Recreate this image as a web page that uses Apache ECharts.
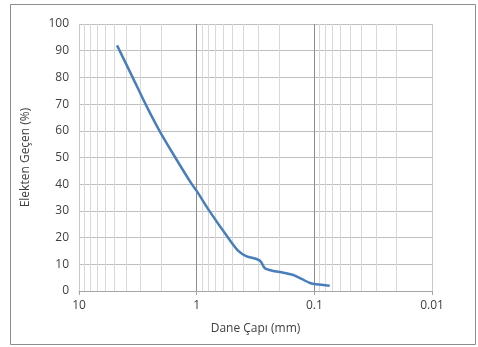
<!DOCTYPE html>
<html>
<head>
<meta charset="utf-8">
<script src="https://cdn.jsdelivr.net/npm/echarts@6/dist/echarts.min.js"></script>
<style>html,body{margin:0;padding:0;background:#fff;}#c{width:478px;height:347px;}</style>
</head>
<body>
<div id="c"></div>
<script>
// Data (grain size in mm, percent passing)
const grainSize = [4.75, 3.5, 2.72, 2.07, 1.52, 1.1, 1.0, 0.78, 0.542, 0.443, 0.376, 0.31, 0.285, 0.263, 0.224, 0.19, 0.151, 0.128, 0.109, 0.0958, 0.074];
const passing   = [92,   80,  70,   60,   50,   40,  37.5, 30,  20,    15,    13,    12,   11,    8.5,   7.5,   7,    6,     4.5,   3,     2.5,    2];
const xTicks = [10, 1, 0.1, 0.01];
const minorX = [9,8,7,6,5,4,3,2, 0.9,0.8,0.7,0.6,0.5,0.4,0.3,0.2, 0.09,0.08,0.07,0.06,0.05,0.04,0.03,0.02];
const majorX = [1, 0.1];
const yTicks = [0, 100, 10];

const font = '"Open Sans", "Liberation Sans", sans-serif';
const chart = echarts.init(document.getElementById('c'), null, {renderer: 'canvas'});
chart.setOption({
  animation: false,
  backgroundColor: '#fff',
  graphic: [{
    type: 'rect', shape: {x: 10.5, y: 4.5, width: 465, height: 340},
    style: {fill: 'none', stroke: '#8c8c8c', lineWidth: 1}, silent: true
  }],
  grid: {left: 79, right: 46, top: 24, bottom: 56},
  xAxis: {
    type: 'log', logBase: 10, min: xTicks[3], max: xTicks[0], inverse: true,
    name: 'Dane Çapı (mm)', nameLocation: 'middle', nameGap: 32,
    nameTextStyle: {fontFamily: font, fontSize: 12, color: '#404040'},
    axisLine: {show: true, lineStyle: {color: '#a6a6a6'}},
    axisTick: {show: true, length: 4, lineStyle: {color: '#a6a6a6'}},
    axisLabel: {fontFamily: font, fontSize: 12, color: '#404040', margin: 9,
      formatter: v => String(+v.toPrecision(3))},
    splitLine: {show: true, lineStyle: {color: '#c8c8c8', width: 1}}
  },
  yAxis: {
    type: 'value', min: yTicks[0], max: yTicks[1], interval: yTicks[2],
    name: 'Elekten Geçen (%)', nameLocation: 'middle', nameGap: 47,
    nameTextStyle: {fontFamily: font, fontSize: 12, color: '#404040'},
    axisLine: {show: false}, axisTick: {show: false},
    axisLabel: {fontFamily: font, fontSize: 12, color: '#404040', margin: 10},
    splitLine: {show: true, lineStyle: {color: '#bfbfbf', width: 1}}
  },
  series: [{
    type: 'line',
    data: grainSize.map((g, i) => [g, passing[i]]),
    smooth: 0.25, showSymbol: false,
    lineStyle: {color: '#4a7ebb', width: 2.5},
    z: 5,
    markLine: {
      silent: true, symbol: 'none', label: {show: false}, animation: false,
      data: minorX.map(v => ({xAxis: v, lineStyle: {color: '#d9d9d9', width: 1, type: 'solid'}}))
        .concat(majorX.map(v => ({xAxis: v, lineStyle: {color: '#8c8c8c', width: 1, type: 'solid'}})))
    }
  }]
});
</script>
</body>
</html>
